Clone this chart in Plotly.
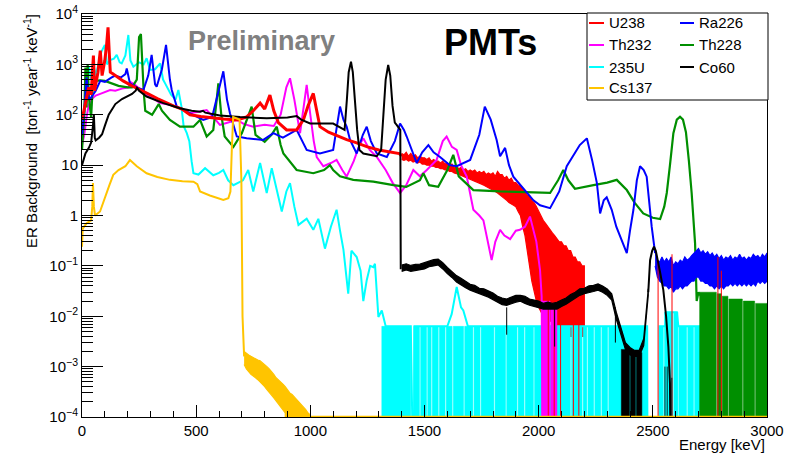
import plotly.graph_objects as go

FLOOR = 1e-6  # empty bins (drawn down to the bottom of the frame)

# ---------------- data (Energy in keV, rate in ton^-1 year^-1 keV^-1) ----------------
u238_x = [0, 10, 20, 30, 40, 50, 55, 62, 70, 80,
          88, 95, 100, 108, 114, 120, 124, 135, 146, 180,
          219, 260, 292, 330, 365, 400, 438, 473, 520, 575,
          620, 678, 720, 750, 780, 800, 823, 840, 860, 896,
          940, 970, 990, 1013, 1030, 1042, 1080, 1120, 1159, 1200,
          1250, 1300, 1350, 1390, 1400]
u238_y = [80, 130, 220, 350, 250, 1490, 300, 470, 700, 1870,
          600, 900, 1200, 2500, 5450, 1500, 700, 650, 600, 470,
          375, 310, 258, 210, 177, 150, 130, 100, 92, 85,
          82, 79, 90, 120, 170, 130, 245, 120, 70, 50,
          50, 80, 150, 265, 110, 58, 45, 38, 32, 28,
          23, 20, 18, 17, 15]
# noisy part: upper / lower edge of the fluctuating band
u238_band_x = list(range(1400, 2210, 10))
u238_band_hi = [17, 16, 18, 15, 17, 15, 16, 14, 15, 14,
                14, 13, 14, 12, 13, 12, 12, 11, 12, 10.5,
                11, 10, 10.5, 9, 9.5, 8.5, 9, 8, 8.5, 7.5,
                8, 7.5, 8, 7, 7.5, 7, 7.5, 6.5, 7, 6.5,
                7, 6, 7.5, 6.5, 6.5, 5.5, 6, 5, 5.5, 4.5,
                4.5, 4, 4, 3.5, 3, 2.5, 2.5, 2, 1.8, 1.5,
                1.2, 1.0, 0.8, 0.7, 0.6, 0.5, 0.45, 0.4, 0.35, 0.3,
                0.3, 0.25, 0.25, 0.2, 0.2, 0.15, 0.15, 0.12, 0.12, 0.1,
                0.1]
u238_band_lo = [13, 12.5, 13, 12, 12.5, 11.5, 12, 11, 11.5, 10.5,
                10.5, 10, 10, 9.5, 9.5, 9, 9, 8.5, 8.5, 8,
                8, 7.5, 7.5, 7, 6.8, 6.5, 6.2, 6, 5.8, 5.5,
                5.2, 5, 4.8, 4.6, 4.4, 4.2, 4, 3.8, 3.6, 3.4,
                3.2, 3, 2.8, 2.6, 2.4, 2.2, 2, 1.8, 1.7, 1.6,
                1.5, 1.2, 1.0, 0.6, 0.4, 0.2, 0.1, 0.05, 0.03, 0.02,
                0.015, 0.012, 0.01, 0.01, 0.009, 0.008, 0.008, 0.007, 0.006, 0.006,
                0.005, 0.005, 0.005, 0.004, 0.004, 0.004, 0.004, 0.004, 0.004, 0.004,
                0.004]
u238_spikes = [(2042, 0.05), (2068, 0.08), (2096, 0.05), (2152, 0.1), (2176, 0.06),
               (2523, 0.12), (2584, 0.17), (2785, 0.15), (2800, 0.08)]

th232_x = [0, 10, 20, 30, 40, 50, 60, 80, 100, 123,
           146, 175, 204, 210, 230, 260, 298, 320, 342, 380,
           415, 450, 473, 510, 546, 575, 604, 640, 678, 710,
           750, 800, 840, 870, 895, 911, 930, 955, 970, 984,
           1000, 1015, 1028, 1057, 1090, 1115, 1140, 1159, 1190, 1215,
           1232, 1260, 1291, 1330, 1360, 1393, 1420, 1451, 1480, 1510,
           1553, 1580, 1597, 1620, 1641, 1660, 1685, 1714, 1740, 1758,
           1794, 1810, 1831, 1850, 1875, 1900, 1918, 1940, 1962, 1977,
           1990, 2006, 2013, 2020, 2085, 3000]
th232_y = [25, 40, 90, 160, 200, 220, 240, 260, 280, 310,
           300, 330, 350, 450, 400, 300, 230, 200, 170, 160,
           145, 120, 107, 115, 124, 90, 63, 70, 79, 65,
           58, 63, 60, 100, 350, 530, 200, 43, 150, 390,
           100, 30, 14.5, 9.5, 11, 12.7, 8, 5.9, 12, 25,
           34, 20, 14.5, 8, 4.5, 2.8, 4, 8, 6, 8,
           12.7, 30, 37, 23, 20, 10, 5.9, 1.3, 1.0, 0.8,
           0.13, 0.3, 0.52, 0.4, 0.34, 0.5, 0.52, 0.6, 0.95, 0.5,
           0.3, 0.082, 0.025, 0, 0, 0]
th232_band = [(2013, 2050, 0.02), (2053, 2080, 0.018)]

u235_x = [0, 10, 20, 30, 40, 50, 60, 75, 85, 100,
          110, 123, 140, 152, 165, 174, 190, 203, 212, 225,
          250, 270, 283, 298, 320, 342, 355, 364, 390, 410,
          422, 435, 445, 459, 470, 480, 488, 510, 539, 575,
          600, 619, 640, 663, 680, 705, 728, 750, 780, 809,
          831, 855, 875, 895, 911, 930, 948, 984, 1013, 1035,
          1064, 1090, 1115, 1130, 1145, 1166, 1180, 1203, 1220, 1232,
          1247, 1262, 1276, 1283, 1298, 1313]
u235_y = [43, 100, 400, 900, 500, 970, 600, 1200, 1800, 2430,
          1000, 1220, 1300, 1540, 1100, 1050, 1500, 3830, 1200, 900,
          1100, 1000, 1320, 775, 800, 1050, 500, 420, 250, 200,
          310, 150, 60, 43, 30, 12, 6.9, 6.5, 8.7, 6.3,
          7, 8.0, 5, 4.0, 4.4, 5, 8, 3.0, 11, 2.8,
          8.7, 3, 1.2, 3, 4.4, 1.5, 0.65, 0.86, 0.52, 0.86,
          0.22, 0.6, 1.3, 0.5, 0.21, 0.028, 0.2, 0.15, 0.08, 0.02,
          0.052, 0.1, 0.094, 0.11, 0.0097, 0.013]
u235_low_x = [1330, 1440, 1443, 1453, 1456, 1600, 1619, 1641, 1660, 1670, 1690,
              2475, 2477, 2528, 2530, 2555, 2560, 2605, 2612, 2705, 2711, 2715, 3000]
u235_low_y = [0.0063, 0.0063, 0, 0, 0.0063, 0.0063, 0.011, 0.038, 0.015, 0.013, 0.0063,
              0.0063, 0, 0, 0.0063, 0.0063, 0.012, 0.012, 0.0063, 0.0063, 0, 0, 0]
u235_band = [(1313, 1440, 0.0063), (1453, 1478, 0.0063), (1483, 1509, 0.0063),
             (1514, 1529, 0.0063), (1534, 1560, 0.0063), (1565, 1590, 0.0063),
             (1595, 1621, 0.0063), (1626, 1671, 0.0063), (1676, 1712, 0.0063),
             (1717, 1743, 0.0063), (1748, 1804, 0.0063), (1809, 1855, 0.0063),
             (1860, 1905, 0.0063), (1910, 1936, 0.0063), (1941, 1977, 0.0063),
             (1982, 2139, 0.0063), (2144, 2190, 0.0063), (2195, 2211, 0.0063),
             (2216, 2241, 0.0063), (2246, 2272, 0.0063), (2277, 2302, 0.0063),
             (2307, 2477, 0.0063), (2528, 2546, 0.0063), (2551, 2587, 0.012),
             (2592, 2610, 0.012), (2614, 2648, 0.0063), (2653, 2678, 0.0063),
             (2683, 2711, 0.0063)]

cs137_x = [0, 3, 20, 40, 45, 48, 52, 57, 79, 100,
           120, 137, 160, 190, 210, 240, 283, 330, 385, 440,
           488, 505, 517, 560, 619, 641, 650, 656, 662, 690,
           698, 703, 710]
cs137_y = [0.24, 0.55, 0.7, 0.8, 1.5, 4.4, 1.5, 1.0, 1.2, 2.3,
           4, 6.4, 8, 9.5, 12.6, 9.5, 6.9, 5.8, 5.1, 4.8,
           4.7, 4.2, 3.0, 2.5, 2.04, 2.2, 3, 20, 90, 80,
           5, 0.01, 0.0016]
cs137_band_x = list(range(710, 1010, 10))
cs137_band_hi = [2e-3, 1.8e-3, 1.7e-3, 1.6e-3, 1.5e-3, 1.4e-3, 1.35e-3, 1.3e-3, 1.2e-3, 1.1e-3,
                 1.0e-3, 9e-4, 8e-4, 7e-4, 6e-4, 5.5e-4, 5e-4, 4.5e-4, 4e-4, 3.5e-4,
                 3e-4, 2.8e-4, 2.5e-4, 2.2e-4, 2e-4, 1.8e-4, 1.6e-4, 1.4e-4, 1.2e-4, 1.1e-4]
cs137_band_lo = [1.1e-3, 9e-4, 8e-4, 7e-4, 6.5e-4, 6e-4, 5.5e-4, 5e-4, 4.5e-4, 4e-4,
                 3.5e-4, 3e-4, 2.7e-4, 2.4e-4, 2.1e-4, 1.8e-4, 1.6e-4, 1.4e-4, 1.2e-4, 0,
                 0, 0, 0, 0, 0, 0, 0, 0, 0, 0]
cs137_rest_x = [1000, 3000]
cs137_rest_y = [1e-4, 1e-4]

ra226_x = [0, 10, 20, 30, 40, 60, 80, 100, 130, 146,
           170, 190, 196, 210, 240, 269, 290, 305, 320, 327,
           350, 368, 385, 393, 415, 450, 473, 500, 531, 570,
           600, 619, 635, 648, 678, 721, 794, 838, 880, 940,
           984, 1042, 1100, 1115, 1130, 1145, 1159, 1174, 1203, 1230,
           1247, 1265, 1291, 1335, 1370, 1393, 1410, 1422, 1466, 1490,
           1517, 1540, 1568, 1610, 1641, 1700, 1740, 1764, 1790, 1816,
           1831, 1853, 1870, 1889, 1948, 1977, 2006, 2050, 2090, 2123,
           2180, 2211, 2235, 2255, 2269, 2285, 2298, 2320, 2340, 2371,
           2386, 2400, 2415, 2430, 2444, 2460, 2473, 2495, 2510]
ra226_y = [40, 120, 555, 200, 220, 300, 470, 450, 550, 600,
           550, 640, 830, 420, 350, 310, 600, 1540, 400, 360,
           800, 2430, 500, 310, 145, 120, 110, 95, 79, 90,
           300, 730, 200, 107, 37, 34, 31.6, 43, 35, 50,
           20, 17, 20, 60, 145, 80, 58, 31.6, 17, 40,
           58, 30, 17, 14.5, 30, 67, 50, 37, 11, 18,
           25, 18, 14.5, 10, 9.5, 12.7, 40, 145, 80, 31.6,
           15, 22, 10, 5.9, 2.8, 2.0, 1.6, 1.4, 3, 9.5,
           25, 34, 12, 4.4, 1.1, 2, 2.3, 1.3, 0.6, 0.28,
           0.18, 0.5, 1.3, 5, 9.5, 8, 5.9, 0.6, 0.18]
ra226_band_x = list(range(2510, 3010, 10))
ra226_band_hi = [0.2, 0.13, 0.12, 0.15, 0.12, 0.14, 0.12, 0.15, 0.1, 0.12,
                 0.11, 0.13, 0.12, 0.15, 0.13, 0.14, 0.16, 0.18, 0.2, 0.22,
                 0.18, 0.2, 0.17, 0.19, 0.16, 0.18, 0.15, 0.17, 0.14, 0.16,
                 0.13, 0.15, 0.14, 0.16, 0.13, 0.15, 0.14, 0.17, 0.14, 0.15,
                 0.13, 0.15, 0.14, 0.17, 0.15, 0.16, 0.14, 0.17, 0.15, 0.18]
ra226_band_lo = [0.1, 0.06, 0.05, 0.045, 0.04, 0.04, 0.035, 0.04, 0.03, 0.035,
                 0.035, 0.04, 0.035, 0.04, 0.04, 0.045, 0.05, 0.05, 0.06, 0.06,
                 0.05, 0.05, 0.045, 0.045, 0.04, 0.04, 0.035, 0.04, 0.035, 0.04,
                 0.035, 0.04, 0.04, 0.045, 0.04, 0.045, 0.04, 0.045, 0.04, 0.045,
                 0.04, 0.045, 0.04, 0.045, 0.04, 0.05, 0.045, 0.05, 0.045, 0.05]

th228_x = [0, 10, 15, 20, 25, 30, 40, 50, 60, 80,
           100, 130, 160, 200, 219, 240, 250, 258, 265, 270,
           277, 307, 336, 350, 385, 429, 488, 517, 546, 575,
           590, 597, 610, 625, 663, 700, 730, 743, 760, 800,
           830, 853, 870, 882, 940, 1013, 1060, 1086, 1100, 1130,
           1188, 1276, 1364, 1420, 1480, 1495, 1520, 1560, 1600, 1626,
           1650, 1714, 1831, 1977, 2050, 2085, 2108, 2130, 2159, 2240,
           2300, 2342, 2386, 2420, 2458, 2500, 2532, 2550, 2561, 2575,
           2590, 2605, 2619, 2632, 2645, 2658, 2670, 2685, 2692, 2700, 2711]
th228_y = [20, 100, 870, 140, 1020, 220, 90, 640, 470, 480,
           470, 420, 375, 350, 350, 500, 3500, 4000, 800, 300,
           120, 100, 163, 120, 79, 58, 58, 79, 37, 50,
           200, 420, 100, 37, 23, 43, 100, 145, 40, 29,
           40, 58, 25, 17, 8, 6.9, 8, 10, 8, 6,
           5.1, 4.7, 4, 3.7, 5, 6.9, 4, 3.7, 8, 16,
           6, 3.2, 3.0, 2.8, 2.8, 5, 8, 5, 3.4, 4,
           4.5, 5.1, 3.2, 1.8, 1.1, 0.9, 0.85, 1.5, 2.8, 10,
           43, 80, 91, 80, 45, 12, 2.8, 0.28, 0.02, 0.03, 0.025]
th228_band = [(2705, 2778, 0.03), (2782, 2800, 0.028), (2804, 2829, 0.025),
              (2833, 2892, 0.022), (2896, 2946, 0.02), (2950, 3000, 0.018)]

co60_x = [0, 15, 30, 40, 48, 52, 56, 60, 75, 88,
          100, 117, 146, 175, 219, 235, 241, 250, 283, 356,
          429, 480, 517, 530, 540, 604, 692, 809, 900, 940,
          960, 999, 1100, 1130, 1150, 1160, 1168, 1178, 1186, 1195,
          1205, 1215, 1232, 1291, 1310, 1320, 1330, 1341, 1350, 1360,
          1370, 1378, 1390, 1394, 1396, 1400]
co60_y = [10, 17, 22, 28, 60, 100, 35, 31, 35, 41,
          60, 100, 163, 205, 258, 300, 340, 300, 230, 170,
          135, 120, 115, 120, 110, 97, 90, 85, 88, 94,
          80, 67, 67, 55, 50, 200, 700, 1130, 700, 200,
          50, 20, 17, 15, 20, 100, 500, 970, 600, 150,
          70, 63, 55, 50, 0.09, 0.09]
co60_band_x = list(range(1400, 2500, 20))
co60_band_hi = [0.104, 0.11, 0.102, 0.107, 0.108, 0.116, 0.125, 0.133, 0.136, 0.116,
                0.093, 0.077, 0.064, 0.057, 0.05, 0.043, 0.041, 0.036, 0.035, 0.032,
                0.029, 0.025, 0.023, 0.022, 0.024, 0.026, 0.026, 0.025, 0.022, 0.021,
                0.02, 0.018, 0.019, 0.018, 0.019, 0.021, 0.023, 0.027, 0.03, 0.035,
                0.036, 0.04, 0.041, 0.044, 0.04, 0.035, 0.028, 0.012, 0.006, 0.003,
                0.0024, 0.0021, 0.0021, 0.0036, 0.035]
co60_band_lo = [0.078, 0.083, 0.078, 0.08, 0.083, 0.087, 0.096, 0.1, 0.104, 0.087,
                0.07, 0.059, 0.048, 0.043, 0.037, 0.033, 0.03, 0.028, 0.026, 0.024,
                0.022, 0.019, 0.017, 0.0165, 0.018, 0.019, 0.02, 0.018, 0.0165, 0.0155,
                0.0148, 0.0139, 0.0139, 0.0139, 0.0139, 0.0157, 0.0174, 0.02, 0.0226, 0.026,
                0.028, 0.0296, 0.031, 0.033, 0.03, 0.026, 0.021, 0.0087, 0.0043, 0.0022,
                0.0017, 0.0016, 0.0016, 0.0026, 0.026]
co60_spikes = [(1860, 0.0043), (2070, 0.0025), (2336, 0.003)]
co60_tail_x = [2480, 2488, 2497, 2505, 2513, 2520, 2533, 2546, 2558, 2568, 2575, 2580, 2600, 3000]
co60_tail_y = [0.03, 0.13, 0.2, 0.24, 0.2, 0.13, 0.07, 0.033, 0.01, 0.0025, 0.00047, 0, 0, 0]
co60_band = [(2362, 2398, 0.0022), (2402, 2424, 0.0018), (2428, 2452, 0.0019),
             (2553, 2555, 0.001), (2563, 2565, 0.001), (2583, 2585, 0.0006)]

legend_labels = ["U238", "Ra226", "Th232", "Th228", "235U", "Co60", "Cs137"]
y_tickvals = [1e-4, 1e-3, 1e-2, 1e-1, 1, 10, 1e2, 1e3, 1e4]
y_ticktext = ["10<sup>\u22124</sup>", "10<sup>\u22123</sup>", "10<sup>\u22122</sup>",
              "10<sup>\u22121</sup>", "1", "10", "10<sup>2</sup>", "10<sup>3</sup>",
              "10<sup>4</sup>"]
x_tickvals = [0, 500, 1000, 1500, 2000, 2500, 3000]

# ---------------- styles ----------------
COL = {"U238": "#ff0000", "Ra226": "#0000ff", "Th232": "#ff00ff", "Th228": "#008f00",
       "235U": "#00ffff", "Co60": "#000000", "Cs137": "#ffc400"}
FONT = "Liberation Sans, Arial, Helvetica, sans-serif"

W, H = 786, 454
L, R, T, B = 82, 19, 14, 37
PW, PH = W - L - R, H - T - B


def clean(vals):
    return [v if v > 0 else FLOOR for v in vals]


def px_x(p):
    return (p - L) / PW


def px_y(p):
    return (H - B - p) / PH


fig = go.Figure()


def add_line(x, y, name, width=2):
    fig.add_trace(go.Scatter(x=x, y=clean(y), mode="lines", name=name, showlegend=False,
                             line=dict(color=COL[name], width=width), hoverinfo="skip"))


def add_poly(xs, ys, name, width=0.5):
    fig.add_trace(go.Scatter(x=xs, y=ys, mode="lines", fill="toself", fillcolor=COL[name],
                             line=dict(color=COL[name], width=width), showlegend=False,
                             hoverinfo="skip", connectgaps=False))


def add_blocks(segments, name):
    xs, ys = [], []
    for a, b, top in segments:
        xs += [a, a, b, b, a, None]
        ys += [FLOOR, top, top, FLOOR, FLOOR, None]
    add_poly(xs, ys, name)


def add_envelope(x, hi, lo, name):
    add_poly(x + x[::-1], clean(hi) + clean(lo)[::-1], name, width=1.2)


def add_spikes(spikes, name, top_from=None):
    xs, ys = [], []
    for xv, yv in spikes:
        xs += [xv, xv, None]
        ys += [FLOOR if top_from is None else top_from, yv, None]
    fig.add_trace(go.Scatter(x=xs, y=ys, mode="lines", line=dict(color=COL[name], width=1),
                             showlegend=False, hoverinfo="skip", connectgaps=False))


add_envelope(u238_band_x, u238_band_hi, u238_band_lo, "U238")
add_blocks(u235_band, "235U")
add_line(u235_x + u235_low_x, u235_y + u235_low_y, "235U")
add_blocks(th232_band, "Th232")
add_line(th232_x, th232_y, "Th232")
add_blocks(th228_band, "Th228")
add_line(th228_x, th228_y, "Th228", width=2.2)
add_line(ra226_x, ra226_y, "Ra226")
add_envelope(ra226_band_x, ra226_band_hi, ra226_band_lo, "Ra226")
add_line(u238_x, u238_y, "U238", width=3)
add_spikes(u238_spikes, "U238")
add_blocks(co60_band, "Co60")
add_line(co60_x, co60_y, "Co60")
add_envelope(co60_band_x, co60_band_hi, co60_band_lo, "Co60")
add_spikes(co60_spikes, "Co60", top_from=0.015)
add_line(co60_tail_x, co60_tail_y, "Co60")
add_line(cs137_x, cs137_y, "Cs137")
add_envelope(cs137_band_x, cs137_band_hi, cs137_band_lo, "Cs137")
add_line(cs137_rest_x, cs137_rest_y, "Cs137", width=2.5)

minor_y = [m * 10 ** e for e in range(-4, 4) for m in range(2, 10)]

fig.update_layout(
    width=W, height=H,
    margin=dict(l=L, r=R, t=T, b=B, pad=0, autoexpand=False),
    paper_bgcolor="white", plot_bgcolor="white",
    font=dict(family=FONT, size=15, color="black"),
    xaxis=dict(range=[0, 3000], showgrid=False, zeroline=False, automargin=False,
               showline=True, linecolor="black", linewidth=1, mirror=True,
               ticks="inside", ticklen=12, tickwidth=1, tickcolor="black",
               tickvals=x_tickvals, tickfont=dict(size=15, family=FONT),
               minor=dict(ticks="inside", ticklen=6, tickwidth=1, tickcolor="black",
                          dtick=100, showgrid=False)),
    yaxis=dict(type="log", range=[-4, 4], showgrid=False, zeroline=False, automargin=False,
               showline=True, linecolor="black", linewidth=1, mirror=True,
               ticks="inside", ticklen=21, tickwidth=1, tickcolor="black",
               tickvals=y_tickvals, ticktext=y_ticktext,
               tickfont=dict(size=15, family=FONT),
               minor=dict(ticks="inside", ticklen=11, tickwidth=1, tickcolor="black",
                          tickvals=minor_y, showgrid=False)),
)

# axis titles
fig.add_annotation(text="Energy [keV]", xref="paper", yref="paper", x=1, y=px_y(444),
                   xanchor="right", yanchor="middle", showarrow=False,
                   font=dict(size=15, family=FONT, color="black"))
fig.add_annotation(text="ER Background  [ton<sup>-1</sup> year<sup>-1</sup> keV<sup>-1</sup>]",
                   xref="paper", yref="paper", x=px_x(31), y=px_y(12), textangle=-90,
                   xanchor="center", yanchor="top", showarrow=False,
                   font=dict(size=15, family=FONT, color="black"))

# labels on the plot
fig.add_annotation(text="<b>Preliminary</b>", xref="paper", yref="paper",
                   x=px_x(186), y=px_y(41), xanchor="left", yanchor="middle",
                   showarrow=False, font=dict(size=27, family=FONT, color="#808080"))
fig.add_annotation(text="<b>PMTs</b>", xref="paper", yref="paper",
                   x=px_x(442), y=px_y(42), xanchor="left", yanchor="middle",
                   showarrow=False, font=dict(size=36, family=FONT, color="black"))

# legend box (two columns, ROOT style)
fig.add_shape(type="rect", xref="paper", yref="paper",
              x0=px_x(587), x1=px_x(768), y0=px_y(100), y1=px_y(13),
              line=dict(color="black", width=1), fillcolor="white", layer="above")
col_line_x = [(589, 604), (680, 694)]
col_text_x = [607, 697]
row_y = [23, 45, 67, 88]
for i, lab in enumerate(legend_labels):
    c, r = i % 2, i // 2
    fig.add_shape(type="line", xref="paper", yref="paper",
                  x0=px_x(col_line_x[c][0]), x1=px_x(col_line_x[c][1]),
                  y0=px_y(row_y[r]), y1=px_y(row_y[r]),
                  line=dict(color=COL[lab], width=2), layer="above")
    fig.add_annotation(text=lab, xref="paper", yref="paper",
                       x=px_x(col_text_x[c]), y=px_y(row_y[r]),
                       xanchor="left", yanchor="middle", showarrow=False,
                       font=dict(size=15, family=FONT, color="black"))

fig.write_html("out.html",
               config={"displayModeBar": False, "staticPlot": True},
               post_script="document.body.style.margin='0px';"
                           "document.body.style.overflow='hidden';")
